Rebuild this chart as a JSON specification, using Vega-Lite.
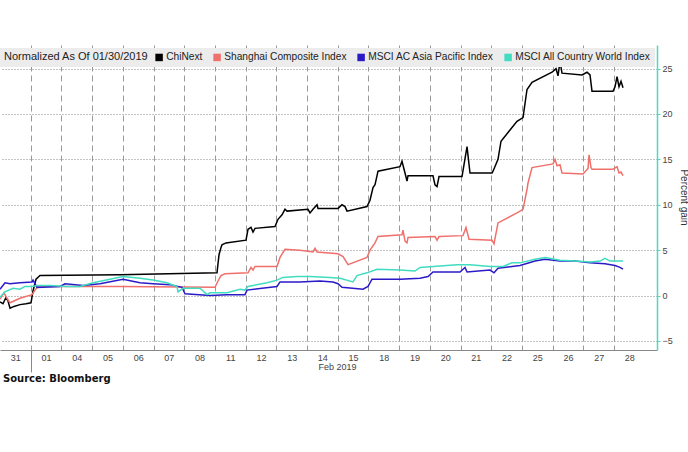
{
"$schema": "https://vega.github.io/schema/vega-lite/v6.json",
"width": 657, "height": 305,
"autosize": {"type": "none"},
"padding": {"left": 0, "top": 45, "right": 31, "bottom": 102},
"background": "white",
"config": {"view": {"stroke": null}, "font": "Liberation Sans"},
"title": {"text": "Source: Bloomberg", "orient": "bottom", "anchor": "start", "frame": "group", "offset": 1, "fontSize": 10, "fontWeight": "bold", "color": "#111", "dx": 3, "font": "DejaVu Sans"},
"data": {"values": [
{"s":"1C","t":0,"v":-0.7},{"s":"1C","t":0.098,"v":-0.9},{"s":"1C","t":0.195,"v":-0.2},{"s":"1C","t":0.261,"v":-0.6},{"s":"1C","t":0.326,"v":-1.4},{"s":"1C","t":0.456,"v":-1.2},{"s":"1C","t":0.651,"v":-1.0},{"s":"1C","t":0.847,"v":-0.9},{"s":"1C","t":1.010,"v":-0.8},{"s":"1C","t":1.075,"v":0.5},{"s":"1C","t":1.173,"v":1.8},{"s":"1C","t":1.303,"v":2.2},{"s":"1C","t":3.909,"v":2.3},{"s":"1C","t":7.068,"v":2.5},{"s":"1C","t":7.134,"v":4.5},{"s":"1C","t":7.199,"v":5.3},{"s":"1C","t":7.231,"v":5.6},{"s":"1C","t":7.362,"v":5.8},{"s":"1C","t":8.013,"v":6.1},{"s":"1C","t":8.078,"v":7.3},{"s":"1C","t":8.176,"v":7.5},{"s":"1C","t":8.241,"v":7.0},{"s":"1C","t":8.306,"v":7.4},{"s":"1C","t":8.958,"v":7.6},{"s":"1C","t":9.055,"v":8.4},{"s":"1C","t":9.186,"v":8.9},{"s":"1C","t":9.283,"v":9.5},{"s":"1C","t":9.349,"v":9.3},{"s":"1C","t":10.033,"v":9.5},{"s":"1C","t":10.098,"v":9.1},{"s":"1C","t":10.195,"v":9.5},{"s":"1C","t":10.326,"v":10.0},{"s":"1C","t":10.358,"v":9.6},{"s":"1C","t":11.010,"v":9.6},{"s":"1C","t":11.140,"v":10.0},{"s":"1C","t":11.238,"v":9.8},{"s":"1C","t":11.303,"v":9.3},{"s":"1C","t":11.954,"v":9.8},{"s":"1C","t":12.052,"v":10.5},{"s":"1C","t":12.150,"v":11.9},{"s":"1C","t":12.215,"v":12.2},{"s":"1C","t":12.313,"v":13.7},{"s":"1C","t":13.029,"v":14.2},{"s":"1C","t":13.094,"v":14.8},{"s":"1C","t":13.192,"v":13.5},{"s":"1C","t":13.257,"v":12.6},{"s":"1C","t":13.290,"v":13.2},{"s":"1C","t":14.104,"v":13.2},{"s":"1C","t":14.169,"v":12.2},{"s":"1C","t":14.235,"v":12.0},{"s":"1C","t":14.300,"v":13.1},{"s":"1C","t":15.049,"v":13.1},{"s":"1C","t":15.212,"v":16.4},{"s":"1C","t":15.309,"v":13.5},{"s":"1C","t":16.026,"v":13.5},{"s":"1C","t":16.059,"v":13.7},{"s":"1C","t":16.221,"v":15.0},{"s":"1C","t":16.319,"v":17.0},{"s":"1C","t":16.840,"v":19.2},{"s":"1C","t":17.036,"v":19.6},{"s":"1C","t":17.166,"v":22.7},{"s":"1C","t":17.329,"v":23.5},{"s":"1C","t":17.980,"v":24.6},{"s":"1C","t":18.111,"v":25.0},{"s":"1C","t":18.176,"v":24.2},{"s":"1C","t":18.241,"v":25.8},{"s":"1C","t":18.306,"v":24.5},{"s":"1C","t":18.958,"v":24.3},{"s":"1C","t":19.121,"v":24.6},{"s":"1C","t":19.218,"v":24.3},{"s":"1C","t":19.283,"v":22.5},{"s":"1C","t":19.967,"v":22.5},{"s":"1C","t":20.033,"v":23.0},{"s":"1C","t":20.098,"v":24.1},{"s":"1C","t":20.163,"v":23.0},{"s":"1C","t":20.228,"v":23.6},{"s":"1C","t":20.293,"v":22.9},
{"s":"2S","t":0,"v":-0.4},{"s":"2S","t":0.130,"v":0.3},{"s":"2S","t":0.228,"v":-0.3},{"s":"2S","t":0.326,"v":-0.8},{"s":"2S","t":0.651,"v":-0.3},{"s":"2S","t":1.042,"v":0.1},{"s":"2S","t":1.140,"v":0.6},{"s":"2S","t":1.238,"v":1.0},{"s":"2S","t":3.909,"v":1.0},{"s":"2S","t":7.003,"v":0.9},{"s":"2S","t":7.101,"v":1.6},{"s":"2S","t":7.199,"v":2.2},{"s":"2S","t":7.329,"v":2.4},{"s":"2S","t":8.078,"v":2.5},{"s":"2S","t":8.176,"v":3.1},{"s":"2S","t":8.241,"v":2.8},{"s":"2S","t":8.306,"v":3.2},{"s":"2S","t":9.023,"v":3.2},{"s":"2S","t":9.121,"v":4.2},{"s":"2S","t":9.283,"v":5.1},{"s":"2S","t":9.772,"v":5.0},{"s":"2S","t":10.195,"v":4.8},{"s":"2S","t":10.261,"v":5.2},{"s":"2S","t":10.326,"v":4.8},{"s":"2S","t":11.010,"v":4.6},{"s":"2S","t":11.173,"v":4.3},{"s":"2S","t":11.336,"v":3.4},{"s":"2S","t":11.954,"v":4.2},{"s":"2S","t":12.052,"v":5.0},{"s":"2S","t":12.215,"v":5.8},{"s":"2S","t":12.313,"v":6.5},{"s":"2S","t":13.094,"v":6.7},{"s":"2S","t":13.127,"v":7.2},{"s":"2S","t":13.192,"v":6.0},{"s":"2S","t":13.257,"v":5.8},{"s":"2S","t":13.290,"v":6.4},{"s":"2S","t":14.169,"v":6.5},{"s":"2S","t":14.235,"v":6.1},{"s":"2S","t":14.300,"v":6.5},{"s":"2S","t":15.081,"v":6.6},{"s":"2S","t":15.179,"v":7.5},{"s":"2S","t":15.277,"v":6.2},{"s":"2S","t":16.026,"v":6.1},{"s":"2S","t":16.091,"v":5.7},{"s":"2S","t":16.221,"v":8.0},{"s":"2S","t":16.840,"v":9.1},{"s":"2S","t":17.036,"v":9.5},{"s":"2S","t":17.166,"v":11.7},{"s":"2S","t":17.199,"v":12.4},{"s":"2S","t":17.329,"v":14.1},{"s":"2S","t":18.013,"v":14.5},{"s":"2S","t":18.078,"v":15.0},{"s":"2S","t":18.143,"v":14.3},{"s":"2S","t":18.241,"v":14.4},{"s":"2S","t":18.306,"v":13.5},{"s":"2S","t":18.990,"v":13.4},{"s":"2S","t":19.153,"v":14.0},{"s":"2S","t":19.186,"v":15.5},{"s":"2S","t":19.251,"v":14.1},{"s":"2S","t":19.283,"v":13.9},{"s":"2S","t":19.967,"v":13.9},{"s":"2S","t":20.098,"v":14.2},{"s":"2S","t":20.163,"v":13.5},{"s":"2S","t":20.228,"v":13.6},{"s":"2S","t":20.293,"v":13.2},
{"s":"3A","t":0,"v":0.7},{"s":"3A","t":0.163,"v":1.4},{"s":"3A","t":0.326,"v":1.3},{"s":"3A","t":0.651,"v":1.4},{"s":"3A","t":1.042,"v":1.5},{"s":"3A","t":1.075,"v":1.7},{"s":"3A","t":1.205,"v":0.9},{"s":"3A","t":1.954,"v":1.0},{"s":"3A","t":2.117,"v":1.3},{"s":"3A","t":2.704,"v":1.1},{"s":"3A","t":3.257,"v":1.3},{"s":"3A","t":4.007,"v":1.8},{"s":"3A","t":4.560,"v":1.4},{"s":"3A","t":4.984,"v":1.3},{"s":"3A","t":5.537,"v":1.2},{"s":"3A","t":5.928,"v":0.9},{"s":"3A","t":6.026,"v":0.2},{"s":"3A","t":6.840,"v":0.0},{"s":"3A","t":7.394,"v":0.1},{"s":"3A","t":7.980,"v":0.1},{"s":"3A","t":8.046,"v":0.6},{"s":"3A","t":8.534,"v":0.8},{"s":"3A","t":9.023,"v":1.0},{"s":"3A","t":9.121,"v":1.5},{"s":"3A","t":9.772,"v":1.5},{"s":"3A","t":10.423,"v":1.6},{"s":"3A","t":10.847,"v":1.5},{"s":"3A","t":11.010,"v":1.3},{"s":"3A","t":11.140,"v":0.9},{"s":"3A","t":11.824,"v":0.7},{"s":"3A","t":11.987,"v":1.0},{"s":"3A","t":12.117,"v":1.8},{"s":"3A","t":13.029,"v":1.8},{"s":"3A","t":13.681,"v":1.9},{"s":"3A","t":13.941,"v":2.1},{"s":"3A","t":14.104,"v":2.6},{"s":"3A","t":14.984,"v":2.6},{"s":"3A","t":15.147,"v":3.1},{"s":"3A","t":15.212,"v":2.6},{"s":"3A","t":15.961,"v":2.8},{"s":"3A","t":16.091,"v":2.5},{"s":"3A","t":16.221,"v":3.0},{"s":"3A","t":16.938,"v":3.3},{"s":"3A","t":17.427,"v":3.8},{"s":"3A","t":17.752,"v":4.0},{"s":"3A","t":18.241,"v":3.8},{"s":"3A","t":18.730,"v":3.8},{"s":"3A","t":19.218,"v":3.6},{"s":"3A","t":19.707,"v":3.5},{"s":"3A","t":20.033,"v":3.3},{"s":"3A","t":20.195,"v":3.1},{"s":"3A","t":20.293,"v":2.9},
{"s":"4W","t":0,"v":-0.2},{"s":"4W","t":0.163,"v":0.4},{"s":"4W","t":0.423,"v":0.8},{"s":"4W","t":0.651,"v":0.7},{"s":"4W","t":0.814,"v":1.0},{"s":"4W","t":1.042,"v":1.0},{"s":"4W","t":1.205,"v":1.1},{"s":"4W","t":1.629,"v":1.1},{"s":"4W","t":2.182,"v":1.0},{"s":"4W","t":2.606,"v":1.0},{"s":"4W","t":3.029,"v":1.4},{"s":"4W","t":3.583,"v":1.8},{"s":"4W","t":4.007,"v":2.1},{"s":"4W","t":4.560,"v":1.9},{"s":"4W","t":4.984,"v":1.7},{"s":"4W","t":5.440,"v":1.4},{"s":"4W","t":5.765,"v":1.0},{"s":"4W","t":5.798,"v":0.4},{"s":"4W","t":5.961,"v":0.8},{"s":"4W","t":6.515,"v":0.8},{"s":"4W","t":6.743,"v":0.1},{"s":"4W","t":6.840,"v":0.3},{"s":"4W","t":7.394,"v":0.3},{"s":"4W","t":7.818,"v":0.7},{"s":"4W","t":7.980,"v":0.6},{"s":"4W","t":8.078,"v":1.0},{"s":"4W","t":8.697,"v":1.4},{"s":"4W","t":9.023,"v":1.7},{"s":"4W","t":9.218,"v":2.0},{"s":"4W","t":9.674,"v":2.1},{"s":"4W","t":10.098,"v":2.1},{"s":"4W","t":10.749,"v":2.0},{"s":"4W","t":11.075,"v":1.9},{"s":"4W","t":11.498,"v":1.5},{"s":"4W","t":11.629,"v":2.2},{"s":"4W","t":11.954,"v":2.5},{"s":"4W","t":12.280,"v":2.9},{"s":"4W","t":13.029,"v":2.8},{"s":"4W","t":13.518,"v":2.7},{"s":"4W","t":13.681,"v":3.1},{"s":"4W","t":14.886,"v":3.4},{"s":"4W","t":15.309,"v":3.4},{"s":"4W","t":15.961,"v":3.2},{"s":"4W","t":16.384,"v":3.2},{"s":"4W","t":16.678,"v":3.6},{"s":"4W","t":16.938,"v":3.6},{"s":"4W","t":17.427,"v":4.0},{"s":"4W","t":17.752,"v":4.2},{"s":"4W","t":18.241,"v":3.9},{"s":"4W","t":18.730,"v":3.8},{"s":"4W","t":19.218,"v":3.7},{"s":"4W","t":19.544,"v":3.8},{"s":"4W","t":19.707,"v":4.1},{"s":"4W","t":19.870,"v":3.8},{"s":"4W","t":20.293,"v":3.8}
]},
"mark": {"type": "line", "strokeWidth": 1.5},
"encoding": {
  "x": {"field": "t", "type": "quantitative",
    "scale": {"domain": [0, 21.4], "nice": false, "zero": false},
    "axis": {"orient": "bottom", "values": [0,1,2,3,4,5,6,7,8,9,10,11,12,13,14,15,16,17,18,19,20],
      "labelExpr": "['31','01','04','05','06','07','08','11','12','13','14','15','18','19','20','21','22','25','26','27','28'][datum.value]",
      "labelOffset": 15.35, "labelAlign": "center", "labelFlush": false, "labelOverlap": false, "labelBound": false,
      "labelFontSize": 9, "labelColor": "#444", "labelPadding": -19,
      "ticks": true, "tickSize": 22,
      "tickColor": {"condition": {"test": "datum.value == 1", "value": "#888888"}, "value": "rgba(0,0,0,0)"},
      "grid": true, "gridDash": [6, 4], "gridColor": "#999999",
      "gridOpacity": {"condition": {"test": "datum.value == 0", "value": 0}, "value": 1},
      "domainColor": "#888888",
      "title": "Feb 2019", "titleFontSize": 9, "titleFontWeight": "normal", "titleColor": "#444",
      "titleX": 337, "titleY": 12, "titleBaseline": "top", "titleAlign": "center"}},
  "y": {"field": "v", "type": "quantitative",
    "scale": {"domain": [-6, 27.6], "nice": false, "zero": false},
    "axis": {"orient": "right", "values": [-5, 0, 5, 10, 15, 20, 25],
      "grid": true, "gridDash": [1, 2], "gridColor": "#888888",
      "domainColor": "#4fd8c4", "domainWidth": 1.5, "tickColor": "#4fd8c4", "tickSize": 3,
      "labelFontSize": 9, "labelColor": "#444", "labelPadding": 2,
      "title": "Percent gain", "titleFontSize": 10, "titleFontWeight": "normal", "titleColor": "#333",
      "titleAngle": 90, "titleX": 26, "titleY": 152, "titleAlign": "center", "titleBaseline": "middle"}},
  "color": {"field": "s", "type": "nominal",
    "scale": {"domain": ["1C", "2S", "3A", "4W"], "range": ["#000000", "#f0706c", "#2b1ac8", "#40ddc0"]},
    "legend": {"orient": "none", "legendX": 0, "legendY": 3, "direction": "horizontal",
      "title": "Normalized As Of 01/30/2019", "titleOrient": "left", "titleFontSize": 11, "titleFontWeight": "normal",
      "titleColor": "#222", "titlePadding": 5, "titleBaseline": "middle",
      "labelFontSize": 10.2, "labelColor": "#222", "labelOffset": 2, "labelLimit": 300,
      "labelExpr": "{'1C':'ChiNext','2S':'Shanghai Composite Index','3A':'MSCI AC Asia Pacific Index','4W':'MSCI All Country World Index'}[datum.label]",
      "symbolType": "square", "symbolSize": 56, "symbolStrokeWidth": 0, "columnPadding": 9,
      "padding": 4, "fillColor": "#ececec",
      "encode": {"symbols": {"update": {"fill": {"scale": "color", "field": "value"}, "strokeWidth": {"value": 0}}}}}}
}
}
